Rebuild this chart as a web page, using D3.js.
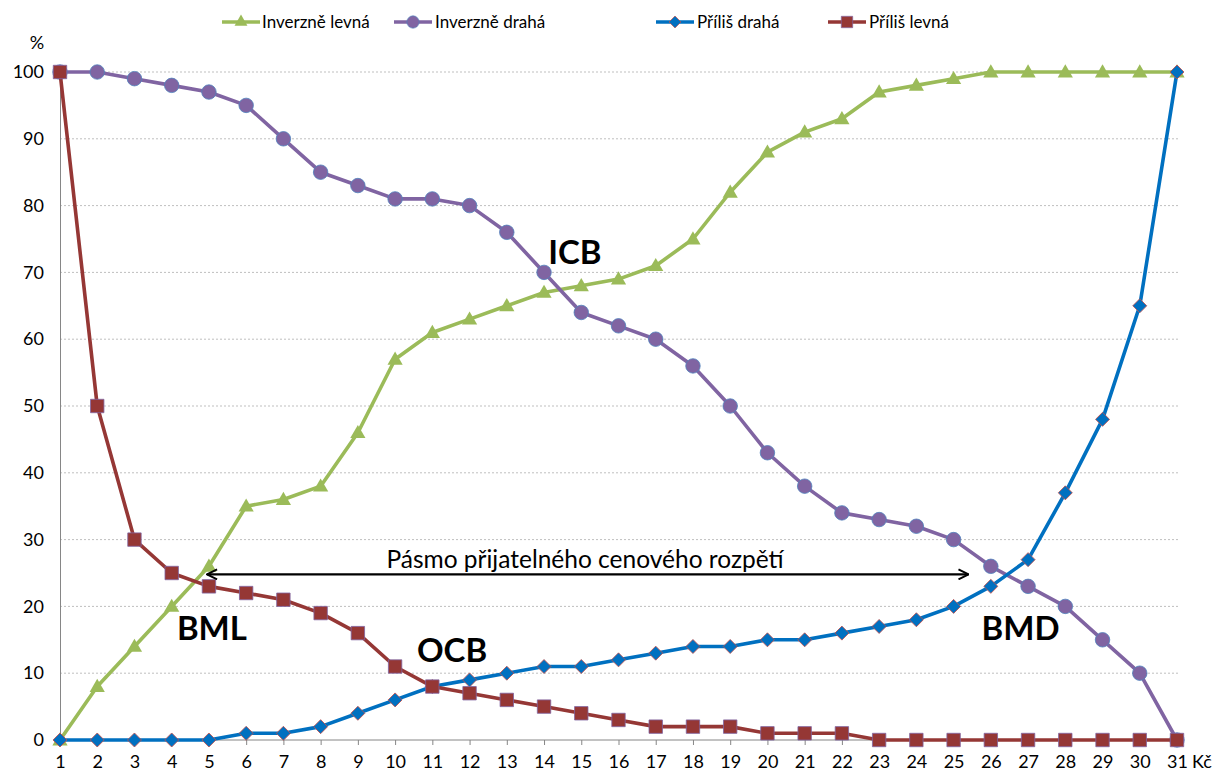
<!DOCTYPE html>
<html>
<head>
<meta charset="utf-8">
<script src="https://cdn.jsdelivr.net/npm/d3@7"></script>
<style>
html,body{margin:0;padding:0;background:#fff;}
svg{display:block;font-family:Lato,"Open Sans",sans-serif;}
</style>
</head>
<body>
<svg id="chart" width="1217" height="771"></svg>
<script>
// ---- data ----
const prices = d3.range(1, 32); // 1..31 Kč
const yTicks = [0,10,20,30,40,50,60,70,80,90,100];
const inverzneLevna = [0,8,14,20,26,35,36,38,46,57,61,63,65,67,68,69,71,75,82,88,91,93,97,98,99,100,100,100,100,100,100];
const inverzneDraha = [100,100,99,98,97,95,90,85,83,81,81,80,76,70,64,62,60,56,50,43,38,34,33,32,30,26,23,20,15,10,0];
const prilisDraha = [0,0,0,0,0,1,1,2,4,6,8,9,10,11,11,12,13,14,14,15,15,16,17,18,20,23,27,37,48,65,100];
const prilisLevna = [100,50,30,25,23,22,21,19,16,11,8,7,6,5,4,3,2,2,2,1,1,1,0,0,0,0,0,0,0,0,0];
const seriesNames = ["Inverzně levná","Inverzně drahá","Příliš drahá","Příliš levná"];
const annotations = [
  {text:"ICB", x:14.83, y:71.3},
  {text:"BML", x:5.08, y:15.0},
  {text:"OCB", x:11.53, y:11.7},
  {text:"BMD", x:26.8, y:15.0}
];
const bandLabel = "Pásmo přijatelného cenového rozpětí";
const bandFrom = 4.95, bandTo = 25.4, bandY = 24.8;

// ---- layout ----
const svg = d3.select("#chart");
const x = d3.scaleLinear().domain([1,31]).range([60,1177]);
const y = d3.scaleLinear().domain([0,100]).range([740,72]);
const plotRight = 1180;

const series = [
  {name:seriesNames[0], values:inverzneLevna, color:"#9BBB59", stroke:"#9BBB59", type:"triangle"},
  {name:seriesNames[1], values:inverzneDraha, color:"#8064A2", stroke:"#4F81BD", type:"circle"},
  {name:seriesNames[2], values:prilisDraha, color:"#0070C0", stroke:"#C0504D", type:"diamond"},
  {name:seriesNames[3], values:prilisLevna, color:"#953735", stroke:"#8064A2", type:"square"}
];

// gridlines
svg.append("g").selectAll("line").data(yTicks.filter(d=>d>0)).join("line")
  .attr("x1",x(1)).attr("x2",plotRight)
  .attr("y1",d=>y(d)).attr("y2",d=>y(d))
  .attr("stroke","#BFBFBF").attr("stroke-width",1).attr("stroke-dasharray","2,2");

// y axis
const yAxis = svg.append("g").attr("transform",`translate(${x(1)},0)`)
  .call(d3.axisLeft(y).tickValues(yTicks).tickSize(0).tickPadding(16));
yAxis.select(".domain").attr("stroke","#868686");
yAxis.selectAll("text").attr("font-size",18).attr("fill","#000").attr("font-family","Lato");

// x axis
const xAxis = svg.append("g").attr("transform",`translate(0,${y(0)})`)
  .call(d3.axisBottom(x).tickValues(prices).tickFormat(d3.format("d")).tickSize(5).tickPadding(10).tickSizeOuter(0));
xAxis.select(".domain").attr("stroke","#868686").attr("d",`M${x(1)},0H${plotRight}`);
xAxis.selectAll(".tick line").attr("stroke","#868686");
xAxis.selectAll("text").attr("font-size",18).attr("fill","#000").attr("font-family","Lato");

// axis titles
svg.append("text").attr("x",37).attr("y",49).attr("text-anchor","middle")
  .attr("font-size",18).text("%");
svg.append("text").attr("x",1192).attr("y",768)
  .attr("font-size",18).text("Kč");

// marker generator
function markerPath(type){
  if(type==="triangle") return d3.symbol(d3.symbolTriangle, 100)();
  if(type==="circle") return d3.symbol(d3.symbolCircle, 165)();
  if(type==="diamond") return d3.symbol(d3.symbolSquare, 98)();
  return d3.symbol(d3.symbolSquare, 180)();
}

const line = d3.line().x((d,i)=>x(prices[i])).y(d=>y(d));

series.forEach(s=>{
  const g = svg.append("g");
  g.append("path").datum(s.values).attr("d",line)
    .attr("fill","none").attr("stroke",s.color).attr("stroke-width",3.6)
    .attr("stroke-linejoin","round");
  g.selectAll("path.m").data(s.values).join("path").attr("class","m")
    .attr("d",markerPath(s.type))
    .attr("transform",(d,i)=>`translate(${x(prices[i])},${y(d)})${s.type==="diamond"?" rotate(45)":""}${s.type==="triangle"?" translate(0,1)":""}`)
    .attr("fill",s.color).attr("stroke",s.stroke).attr("stroke-width",s.type==="triangle"?0:0.8);
});

// legend
const legendItems = [
  {s:series[0], lx:222, tx:262},
  {s:series[1], lx:394, tx:435},
  {s:series[2], lx:656, tx:697},
  {s:series[3], lx:828, tx:869}
];
const lg = svg.append("g");
legendItems.forEach(it=>{
  const ly = 22;
  lg.append("line").attr("x1",it.lx).attr("x2",it.lx+38).attr("y1",ly).attr("y2",ly)
    .attr("stroke",it.s.color).attr("stroke-width",3.6);
  lg.append("path").attr("d",markerPath(it.s.type))
    .attr("transform",`translate(${it.lx+19},${ly})${it.s.type==="diamond"?" rotate(45) scale(0.85)":" scale(0.85)"}`)
    .attr("fill",it.s.color).attr("stroke",it.s.stroke).attr("stroke-width",it.s.type==="triangle"?0:0.8);
  lg.append("text").attr("x",it.tx).attr("y",ly+6).attr("font-size",17).text(it.s.name);
});

// band arrow
svg.append("defs").append("marker").attr("id","arr").attr("viewBox","0 0 12 12")
  .attr("refX",11).attr("refY",6).attr("markerWidth",12).attr("markerHeight",12)
  .attr("orient","auto-start-reverse").attr("markerUnits","userSpaceOnUse")
  .append("path").attr("d","M1,1 L11,6 L1,11").attr("fill","none").attr("stroke","#000").attr("stroke-width",2);
svg.append("line").attr("x1",x(bandFrom)).attr("x2",x(bandTo)).attr("y1",y(bandY)).attr("y2",y(bandY))
  .attr("stroke","#000").attr("stroke-width",2.2)
  .attr("marker-start","url(#arr)").attr("marker-end","url(#arr)");
svg.append("text").attr("x",585).attr("y",y(bandY)-6)
  .attr("text-anchor","middle").attr("font-size",24.5).text(bandLabel);

// annotations
svg.append("g").selectAll("text").data(annotations).join("text")
  .attr("x",d=>x(d.x)).attr("y",d=>y(d.y)).attr("text-anchor","middle")
  .attr("font-size",33).attr("font-weight","bold").text(d=>d.text);
</script>
</body>
</html>
